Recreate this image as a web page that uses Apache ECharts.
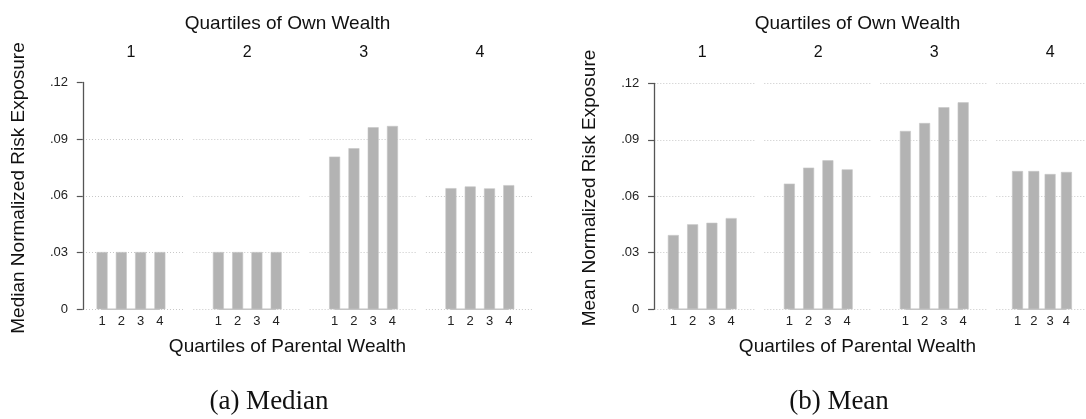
<!DOCTYPE html>
<html>
<head>
<meta charset="utf-8">
<script src="https://cdn.jsdelivr.net/npm/echarts@6/dist/echarts.min.js"></script>
<style>
html,body{margin:0;padding:0;background:#fff;}
#c{width:1086px;height:419px;}
</style>
</head>
<body>
<div id="c"></div>
<script>
// ---------- data ----------
const parentalQuartiles = [1, 2, 3, 4];
const ownQuartileLabels = ['1', '2', '3', '4'];
const yTickLabels = ['0', '.03', '.06', '.09', '.12'];

// Median normalized risk exposure, by own-wealth quartile (panels) and parental-wealth quartile (bars)
const medianOwnQ1 = [0.0303, 0.0303, 0.0303, 0.0303];
const medianOwnQ2 = [0.0303, 0.0303, 0.0303, 0.0303];
const medianOwnQ3 = [0.0808, 0.0852, 0.0963, 0.0970];
const medianOwnQ4 = [0.0641, 0.0650, 0.0640, 0.0657];

// Mean normalized risk exposure
const meanOwnQ1 = [0.0394, 0.0451, 0.0459, 0.0484];
const meanOwnQ2 = [0.0667, 0.0752, 0.0791, 0.0743];
const meanOwnQ3 = [0.0947, 0.0989, 0.1073, 0.1099];
const meanOwnQ4 = [0.0734, 0.0734, 0.0718, 0.0729];

const topTitle = 'Quartiles of Own Wealth';
const bottomTitle = 'Quartiles of Parental Wealth';
const yTitles = ['Median Normalized Risk Exposure', 'Mean Normalized Risk Exposure'];
const captions = ['(a) Median', '(b) Mean'];

// ---------- layout ----------
const SANS = '"Liberation Sans", Arial, Helvetica, sans-serif';
const SERIF = '"Liberation Serif", "DejaVu Serif", serif';
const charts = [
  { panels: [medianOwnQ1, medianOwnQ2, medianOwnQ3, medianOwnQ4], x0: 77, step: 116.3, top: 82.5, height: 226.8,
    titleX: 287.5, yTitleX: 19, captionX: 269, showMax: false },
  { panels: [meanOwnQ1, meanOwnQ2, meanOwnQ3, meanOwnQ4], x0: 648.3, step: 116, top: 83.3, height: 225.9,
    titleX: 857.5, yTitleX: 590, captionX: 839, showMax: true }
];
const panelW = 106;
const BAR = '#b3b3b3';

const grid = [], xAxis = [], yAxis = [], series = [], graphic = [];
charts.forEach((ch, ci) => {
  ch.panels.forEach((vals, pi) => {
    const idx = grid.length;
    const left = ch.x0 + ch.step * pi;
    grid.push({ left: left, top: ch.top, width: panelW, height: ch.height, containLabel: false });
    xAxis.push({
      gridIndex: idx, type: 'value', min: -0.3, max: 5.2,
      axisLine: { show: false }, axisTick: { show: false }, splitLine: { show: false },
      axisLabel: { show: true, customValues: parentalQuartiles, formatter: v => String(v),
        fontFamily: SANS, fontSize: 13, color: '#222', margin: 6 }
    });
    const first = pi === 0;
    yAxis.push({
      gridIndex: idx, type: 'value', min: 0, max: 0.12, interval: 0.03,
      axisLine: { show: first, lineStyle: { color: '#555', width: 1.3 } },
      axisTick: { show: first, length: 6, lineStyle: { color: '#555', width: 1.2 } },
      axisLabel: { show: first, fontFamily: SANS, fontSize: 13, color: '#222', margin: 9,
        formatter: v => yTickLabels[Math.round(v / 0.03)] },
      splitLine: { show: true, showMaxLine: ch.showMax,
        lineStyle: { color: '#c8c8c8', type: [1, 2], width: 1 } }
    });
    series.push({
      type: 'line', xAxisIndex: idx, yAxisIndex: idx, silent: true, z: 1,
      symbol: 'none', data: [[parentalQuartiles[0], 0], [parentalQuartiles[parentalQuartiles.length - 1], 0]],
      lineStyle: { color: '#c4c4c4', width: 1.5 }
    });
    series.push({
      type: 'bar', xAxisIndex: idx, yAxisIndex: idx, silent: true, z: 2,
      barWidth: 11,
      data: parentalQuartiles.map((q, i) => [q, vals[i]]),
      itemStyle: { color: BAR, borderColor: '#c6c6c6', borderWidth: 0.6 }
    });
    // panel header (own-wealth quartile)
    graphic.push({ type: 'text', x: left + panelW / 2 + 1, y: 52.5, silent: true,
      style: { text: ownQuartileLabels[pi], font: '16px ' + SANS, fill: '#111',
        textAlign: 'center', textVerticalAlign: 'middle', align: 'center', verticalAlign: 'middle' } });
  });
  graphic.push({ type: 'text', x: ch.titleX, y: 24, silent: true,
    style: { text: topTitle, font: '19px ' + SANS, fill: '#111',
      textAlign: 'center', textVerticalAlign: 'middle', align: 'center', verticalAlign: 'middle' } });
  graphic.push({ type: 'text', x: ch.titleX, y: 346.5, silent: true,
    style: { text: bottomTitle, font: '19px ' + SANS, fill: '#111',
      textAlign: 'center', textVerticalAlign: 'middle', align: 'center', verticalAlign: 'middle' } });
  graphic.push({ type: 'text', x: ch.yTitleX, y: 188, rotation: Math.PI / 2, silent: true,
    style: { text: yTitles[ci], font: '19px ' + SANS, fill: '#111',
      textAlign: 'center', textVerticalAlign: 'middle', align: 'center', verticalAlign: 'middle' } });
  graphic.push({ type: 'text', x: ch.captionX, y: 402, silent: true,
    style: { text: captions[ci], font: '27px ' + SERIF, fill: '#111',
      textAlign: 'center', textVerticalAlign: 'middle', align: 'center', verticalAlign: 'middle' } });
});

const chart = echarts.init(document.getElementById('c'), null, { renderer: 'canvas' });
chart.setOption({
  animation: false,
  backgroundColor: '#fff',
  grid, xAxis, yAxis, series, graphic
});
</script>
</body>
</html>
